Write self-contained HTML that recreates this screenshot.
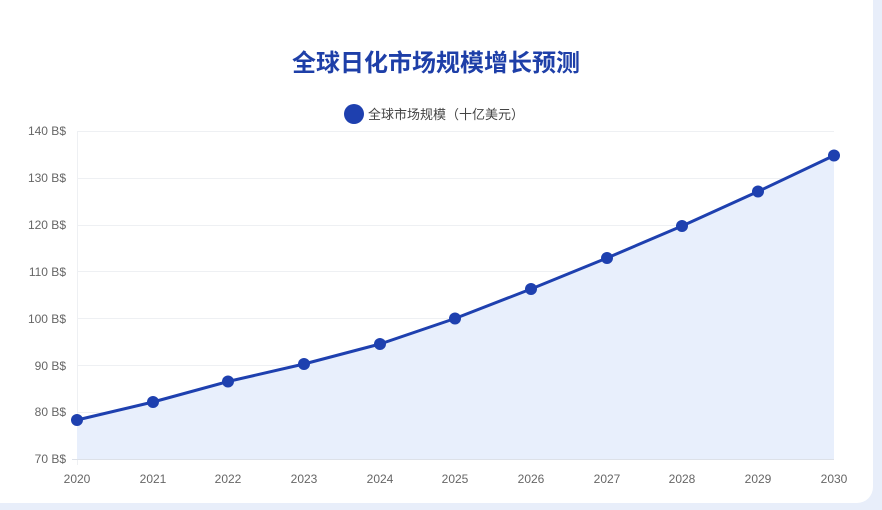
<!DOCTYPE html><html><head><meta charset="utf-8"><style>
body{margin:0;width:882px;height:510px;background:#e8eefa;overflow:hidden;font-family:"Liberation Sans","Noto Sans CJK SC",sans-serif}
.card{position:absolute;left:-16px;top:-16px;width:889px;height:519px;background:#fff;border-radius:16px}
</style></head><body><div class="card"></div>
<svg width="882" height="510" style="position:absolute;left:0;top:0" font-family="Liberation Sans, Noto Sans CJK SC, sans-serif">
<text x="436" y="71" text-anchor="middle" font-size="24" font-weight="bold" fill="#1e3fa8">全球日化市场规模增长预测</text>
<circle cx="354" cy="114" r="10" fill="#1e40af"/>
<text x="368" y="119" font-size="13" fill="#444">全球市场规模（十亿美元）</text>
<g stroke="#eef0f3" stroke-width="1">
<line x1="77" x2="834" y1="131.5" y2="131.5"/><line x1="77" x2="834" y1="178.5" y2="178.5"/><line x1="77" x2="834" y1="225.5" y2="225.5"/><line x1="77" x2="834" y1="271.5" y2="271.5"/><line x1="77" x2="834" y1="318.5" y2="318.5"/><line x1="77" x2="834" y1="365.5" y2="365.5"/><line x1="77" x2="834" y1="412.5" y2="412.5"/>
<line x1="77.5" x2="77.5" y1="131" y2="465"/>
</g>
<line x1="72" x2="834" y1="459.5" y2="459.5" stroke="#dde1e8"/>
<g font-size="12" fill="#666" text-anchor="end">
<text x="66" y="135">140 B$</text><text x="66" y="182">130 B$</text><text x="66" y="229">120 B$</text><text x="66" y="276">110 B$</text><text x="66" y="323">100 B$</text><text x="66" y="370">90 B$</text><text x="66" y="416">80 B$</text><text x="66" y="463">70 B$</text>
</g>
<g font-size="12" fill="#666" text-anchor="middle">
<text x="77" y="483">2020</text><text x="153" y="483">2021</text><text x="228" y="483">2022</text><text x="304" y="483">2023</text><text x="380" y="483">2024</text><text x="455" y="483">2025</text><text x="531" y="483">2026</text><text x="607" y="483">2027</text><text x="682" y="483">2028</text><text x="758" y="483">2029</text><text x="834" y="483">2030</text>
</g>
<path d="M77,420 L153,402 L228,381.5 L304,364 L380,344 L455,318.5 L531,289 L607,258 L682,226 L758,191.5 L834,155.5 L834,459 L77,459Z" fill="#e8effc"/>
<polyline points="77,420 153,402 228,381.5 304,364 380,344 455,318.5 531,289 607,258 682,226 758,191.5 834,155.5" fill="none" stroke="#1e40af" stroke-width="3" stroke-linejoin="round"/>
<g fill="#1e40af">
<circle cx="77" cy="420" r="6"/><circle cx="153" cy="402" r="6"/><circle cx="228" cy="381.5" r="6"/><circle cx="304" cy="364" r="6"/><circle cx="380" cy="344" r="6"/><circle cx="455" cy="318.5" r="6"/><circle cx="531" cy="289" r="6"/><circle cx="607" cy="258" r="6"/><circle cx="682" cy="226" r="6"/><circle cx="758" cy="191.5" r="6"/><circle cx="834" cy="155.5" r="6"/>
</g>
</svg></body></html>
